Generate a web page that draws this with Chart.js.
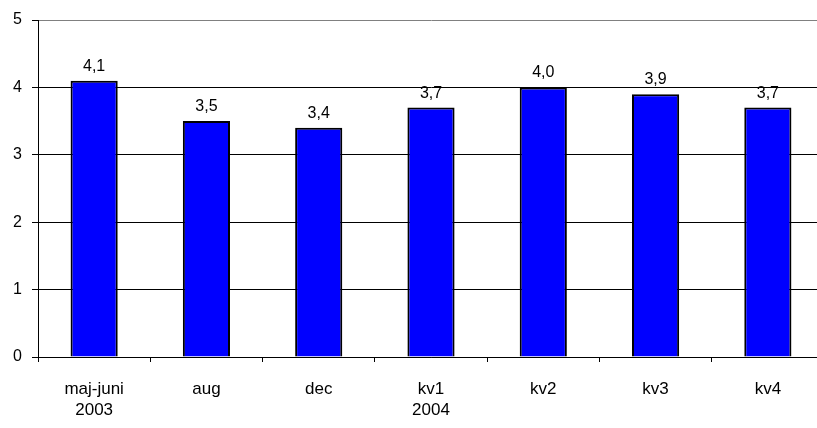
<!DOCTYPE html>
<html>
<head>
<meta charset="utf-8">
<script src="https://cdn.jsdelivr.net/npm/chart.js@4/dist/chart.umd.min.js"></script>
<style>
  html, body { margin: 0; padding: 0; background: #fff; overflow: hidden; }
  #wrap { width: 824px; height: 428px; }
</style>
</head>
<body>
<div id="wrap"><canvas id="c" width="824" height="428"></canvas></div>
<script>
const categories = [["maj-juni", "2003"], "aug", "dec", ["kv1", "2004"], "kv2", "kv3", "kv4"];
const values = [4.1, 3.5, 3.4, 3.7, 4.0, 3.9, 3.7];
const yTicks = [0, 1, 2, 3, 4, 5];

const FONT = "'Liberation Sans', Arial, sans-serif";

const valueLabels = {
  id: 'valueLabels',
  afterDatasetsDraw(chart) {
    const ctx = chart.ctx;
    const meta = chart.getDatasetMeta(0);
    ctx.save();
    ctx.font = '16px ' + FONT;
    ctx.fillStyle = '#000';
    ctx.textAlign = 'center';
    ctx.textBaseline = 'alphabetic';
    meta.data.forEach((bar, i) => {
      const txt = values[i].toFixed(1).replace('.', ',');
      ctx.fillText(txt, bar.x, bar.y - 10);
    });
    ctx.restore();
  }
};

new Chart(document.getElementById('c'), {
  type: 'bar',
  data: {
    labels: categories,
    datasets: [{
      data: values,
      backgroundColor: '#0000FF',
      borderColor: '#000000',
      borderWidth: 2,
      barPercentage: 0.42,
      categoryPercentage: 1.0
    }]
  },
  options: {
    responsive: false,
    animation: false,
    layout: { padding: { top: 20, left: 0, right: 0, bottom: 0 } },
    plugins: { legend: { display: false }, tooltip: { enabled: false } },
    scales: {
      x: {
        grid: {
          offset: true,
          drawOnChartArea: false,
          drawTicks: true,
          tickLength: 5,
          tickColor: '#000'
        },
        border: { display: true, color: '#000', width: 1 },
        ticks: {
          color: '#000',
          font: { family: FONT, size: 17, lineHeight: 1.22 },
          padding: 17,
          maxRotation: 0,
          autoSkip: false
        },
        afterFit(scale) { scale.height = 71; }
      },
      y: {
        min: 0,
        max: 5,
        afterBuildTicks(scale) { scale.ticks = yTicks.map(v => ({ value: v })); },
        grid: {
          color: (c) => (c.tick && c.tick.value === 5) ? '#808080' : '#000',
          lineWidth: 1,
          drawTicks: true,
          tickLength: 6,
          tickColor: '#000'
        },
        border: { display: true, color: '#000', width: 1 },
        ticks: {
          color: '#000',
          font: { family: FONT, size: 16 },
          padding: 10
        },
        afterFit(scale) { scale.width = 38; }
      }
    }
  },
  plugins: [valueLabels]
});
</script>
</body>
</html>
